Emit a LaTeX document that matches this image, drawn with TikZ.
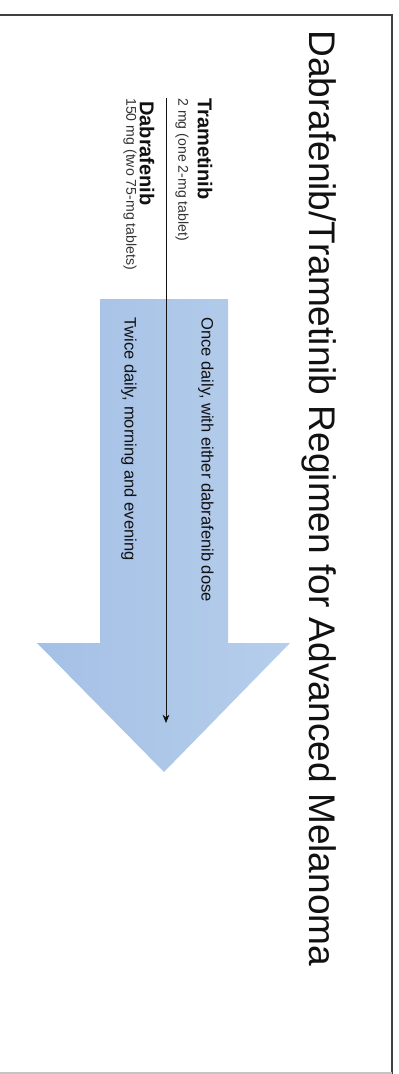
\documentclass[tikz,border=0pt]{standalone}
\usepackage{fontspec}
\setmainfont{Liberation Sans}
\usetikzlibrary{arrows.meta}
\definecolor{ink}{HTML}{111111}
\definecolor{noteInk}{HTML}{333333}
\definecolor{frameInk}{HTML}{404040}
\definecolor{frameLight}{HTML}{C4C4C4}
\definecolor{bandBlue}{HTML}{A4C0E5}
\definecolor{bandLight}{HTML}{B6CEEC}
\tikzset{
  sideways/.style={
    rotate=-90,
    anchor=west,
    inner sep=0pt,
    text=ink
  },
  title text/.style={
    sideways,
    font=\fontsize{27.8}{32}\selectfont
  },
  drug name/.style={
    sideways,
    font=\fontsize{15}{17}\selectfont\bfseries
  },
  dose note/.style={
    sideways,
    font=\fontsize{10.6}{12}\selectfont,
    text=noteInk
  },
  schedule/.style={
    sideways,
    font=\fontsize{12.4}{14}\selectfont
  },
  frame edge/.style={
    draw=frameInk,
    line width=1pt
  },
  timeline/.style={
    -{Stealth[length=2.2mm,width=1.8mm]},
    draw=ink,
    line width=0.6pt
  }
}

\begin{document}
\begin{tikzpicture}[x=0.75pt,y=-0.75pt]
  \useasboundingbox (0,0) rectangle (399,1074);

  % page frame
  \draw[frame edge] (0,15) -- (392,15) -- (392,1074);
  \draw[draw=frameLight,line width=0.8pt] (0,1073) -- (392,1073);

  % broad arrow
  \shade[left color=bandBlue,right color=bandLight]
    (100,299) -- (228,299) -- (228,643) -- (290,643) -- (164,772)
    -- (37,643) -- (100,643) -- cycle;

  \node[title text] (title) at (319,30) {Dabrafenib/Trametinib Regimen for Advanced Melanoma};

  \node[drug name] (trametinib) at (205,98) {Trametinib};
  \node[dose note] (trametinib-dose) at (182,98) {2 mg (one 2-mg tablet)};
  \node[drug name] (dabrafenib) at (147,101) {Dabrafenib};
  \node[dose note] (dabrafenib-dose) at (130,98) {150 mg (two 75-mg tablets)};

  \node[schedule] (once) at (206,317) {Once daily, with either dabrafenib dose};
  \node[schedule] (twice) at (129,317) {Twice daily, morning and evening};

  \coordinate (start) at (166,98);
  \coordinate (finish) at (166,723);
  \draw[timeline] (start) -- (finish);
\end{tikzpicture}
\end{document}
